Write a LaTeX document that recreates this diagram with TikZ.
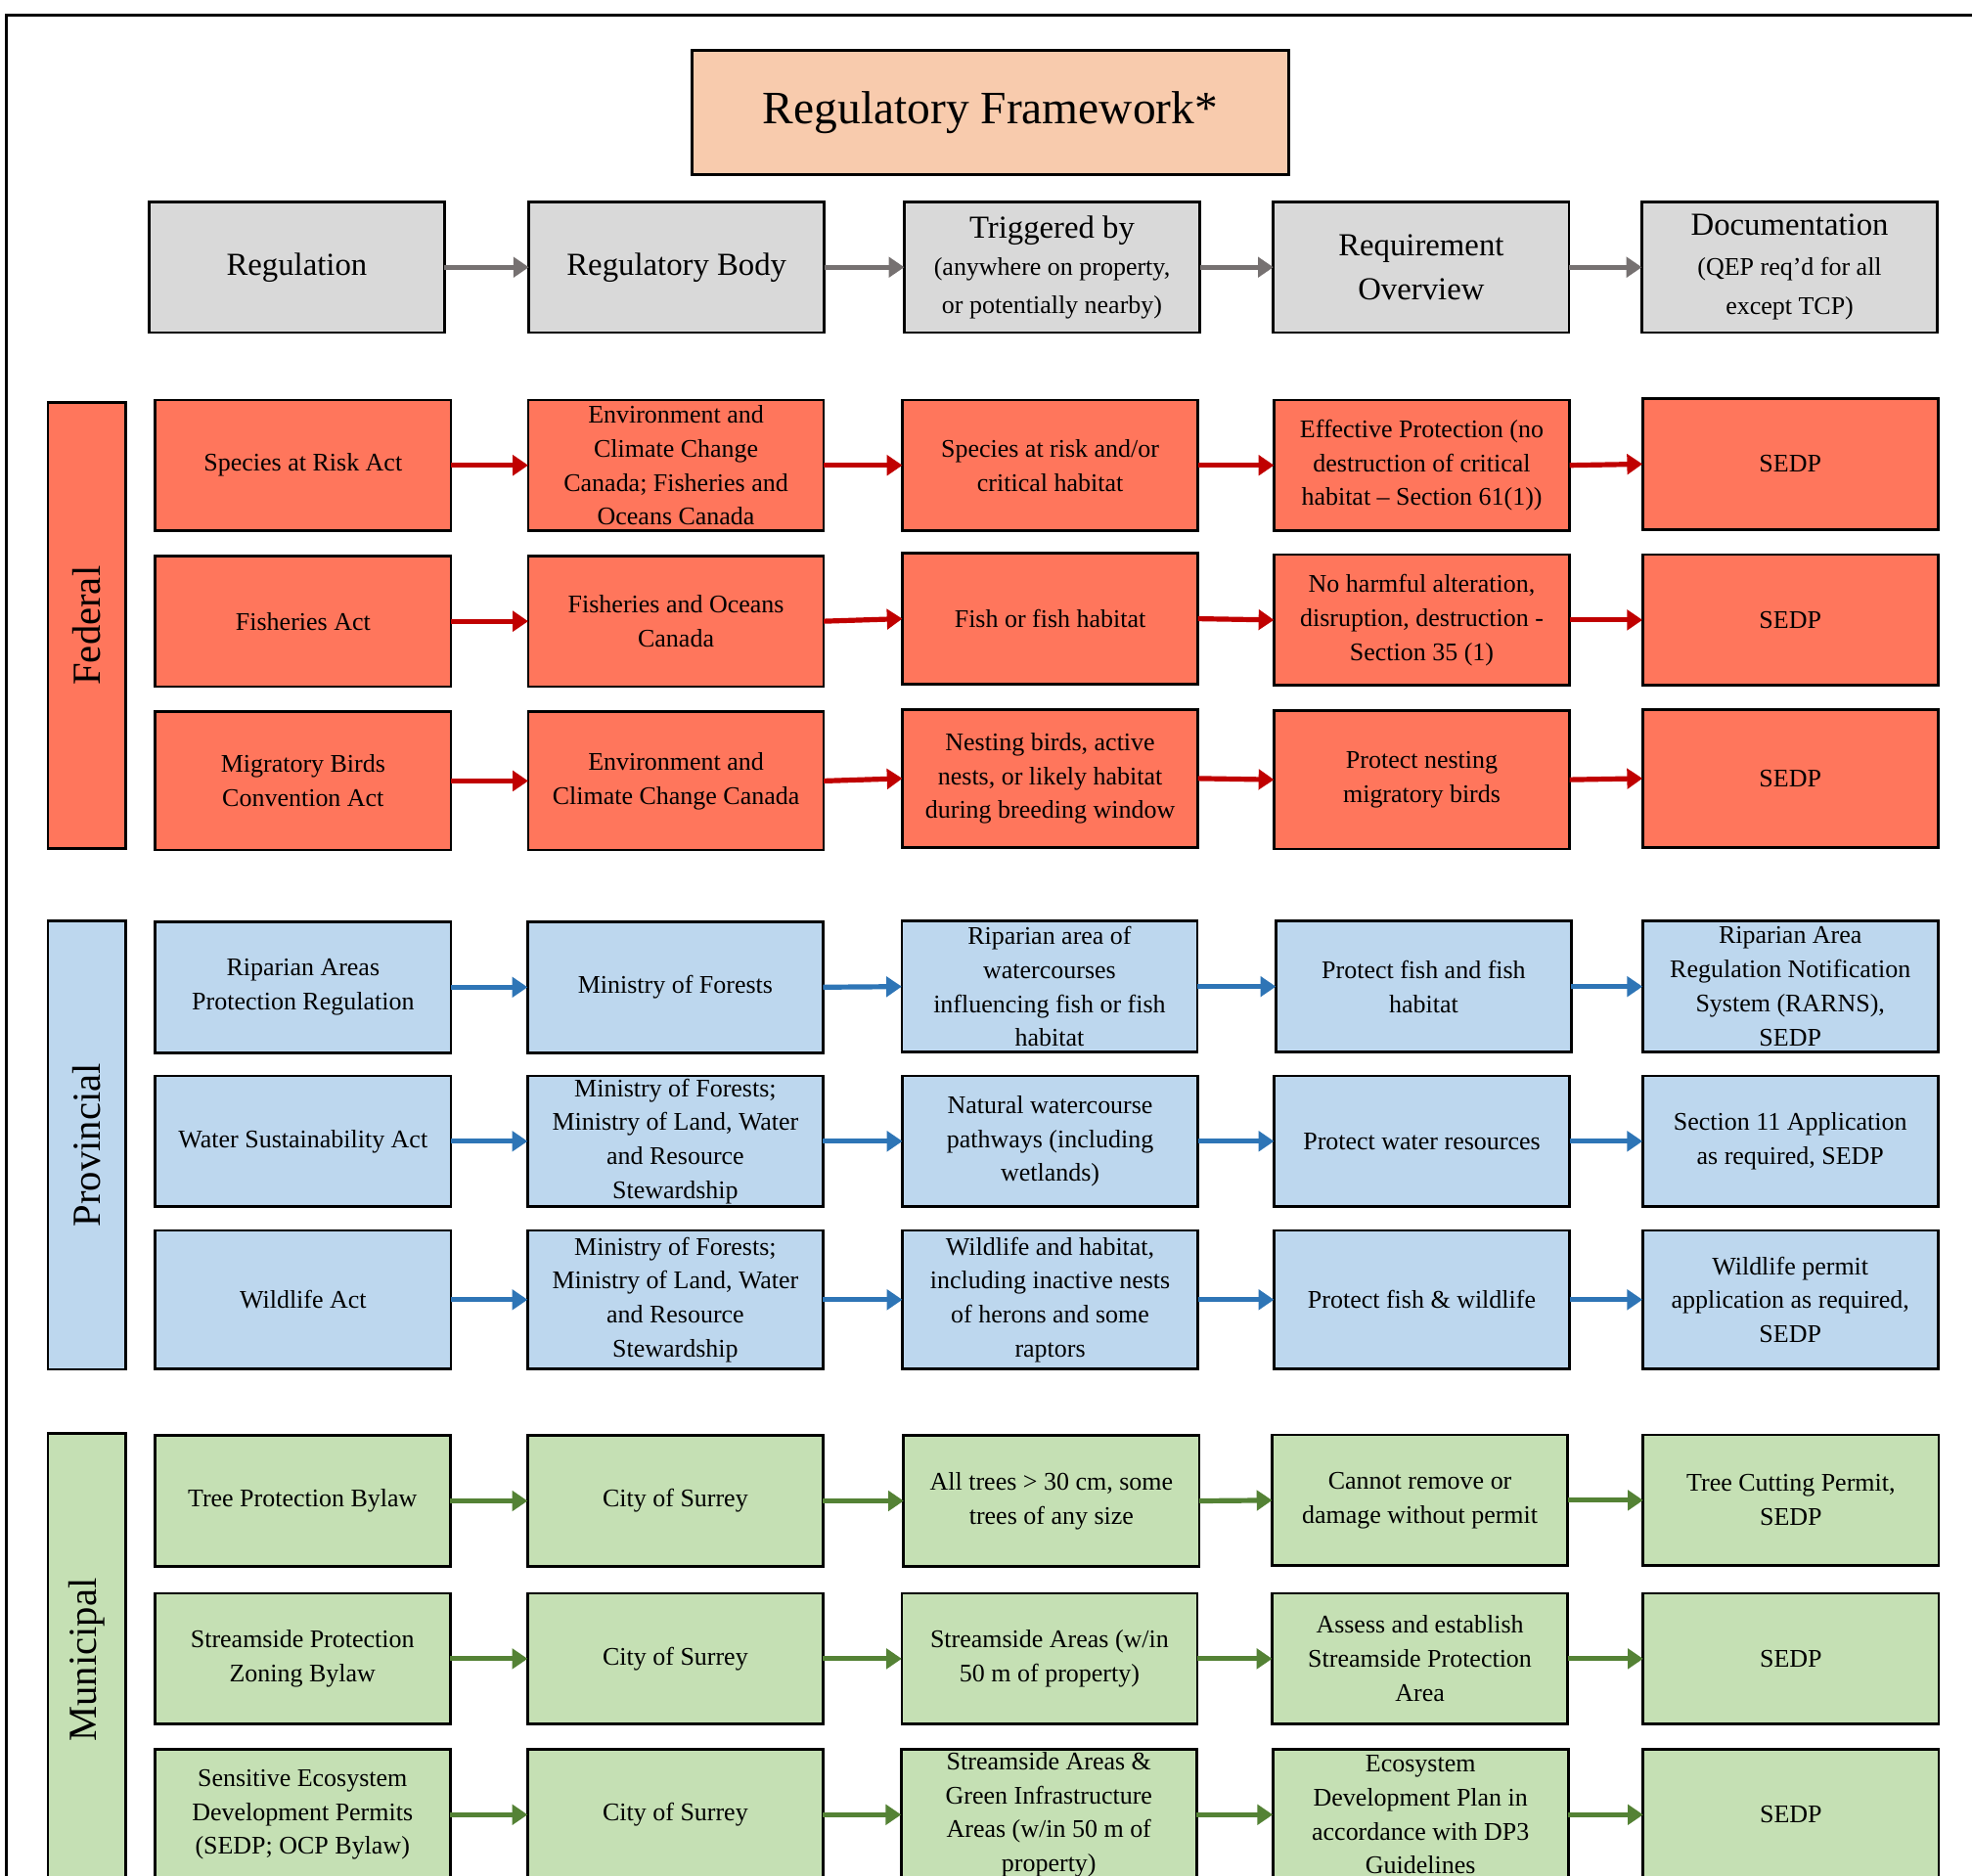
\documentclass[tikz,border=0pt]{standalone}
\usepackage{fontspec}
\setmainfont{Liberation Serif}
\usetikzlibrary{arrows.meta}

\definecolor{titlepeach}{HTML}{F8CBAD}
\definecolor{headgray}{HTML}{D9D9D9}
\definecolor{fedred}{RGB}{255,118,92}
\definecolor{provblue}{HTML}{BDD7EE}
\definecolor{mungreen}{HTML}{C5E0B4}
\definecolor{grayarrow}{HTML}{767171}
\definecolor{redarrow}{HTML}{C00000}
\definecolor{bluearrow}{HTML}{2E75B6}
\definecolor{greenarrow}{HTML}{548235}

\tikzset{
  box/.style={draw=black, line width=1.2pt, minimum width=4.7cm, minimum height=2.08cm,
    inner sep=1pt, outer sep=0pt, align=center, font=\fontsize{11.5}{15.4}\selectfont},
  tallbox/.style={box, minimum height=2.2cm},
  headbox/.style={box, fill=headgray, font=\fontsize{14.5}{20}\selectfont},
  fedbox/.style={box, fill=fedred},
  provbox/.style={box, fill=provblue},
  munbox/.style={box, fill=mungreen},
  grouplabel/.style={draw=black, line width=1.2pt, minimum height=1.24cm, inner sep=0pt,
    rotate=90, font=\fontsize{18}{22}\selectfont},
  flowarrow/.style={line width=2.3pt, -{Triangle[length=7pt,width=9pt]}},
  subtext/.style={font=\fontsize{11.5}{15}\selectfont}
}

\begin{document}
\begin{tikzpicture}[x=0.02cm, y=-0.02cm]
\useasboundingbox (0,0) rectangle (1568,1491);
\clip (0,0) rectangle (1568,1491);

% outer frame
\draw[line width=1.1pt] (5,12) rectangle (1640,1560);

% title
\node[draw=black, line width=1.2pt, fill=titlepeach, minimum width=9.5cm, minimum height=1.98cm,
  font=\fontsize{21}{25}\selectfont] (title) at (787.5,89.5) {Regulatory Framework*};

% header row
\node[headbox] (h-reg) at (236,212.5) {Regulation};
\node[headbox] (h-body) at (538,212.5) {Regulatory Body};
\node[headbox] (h-trig) at (836.5,212.5) {Triggered by\\[-3pt] {\fontsize{11.5}{14}\selectfont (anywhere on property,}\\[-3pt] {\fontsize{11.5}{14}\selectfont or potentially nearby)}};
\node[headbox] (h-req) at (1130,212.5) {Requirement\\ Overview};
\node[headbox] (h-doc) at (1423,212.5) {Documentation\\[-2pt] {\fontsize{11.5}{14}\selectfont (QEP req’d for all}\\[-2pt] {\fontsize{11.5}{14}\selectfont except TCP)}};

% federal
\node[grouplabel, fill=fedred, minimum width=7.1cm] (fed) at (69,497.5) {Federal};
\node[fedbox] (f1-reg) at (241,370) {Species at Risk Act};
\node[fedbox] (f1-body) at (537.5,370) {Environment and\\ Climate Change\\ Canada; Fisheries and\\ Oceans Canada};
\node[fedbox] (f1-trig) at (835,370) {Species at risk and/or\\ critical habitat};
\node[fedbox] (f1-req) at (1130.5,370) {Effective Protection (no\\ destruction of critical\\ habitat -- Section 61(1))};
\node[fedbox] (f1-doc) at (1423.5,369) {SEDP};

\node[fedbox] (f2-reg) at (241,494) {Fisheries Act};
\node[fedbox] (f2-body) at (537.5,494) {Fisheries and Oceans\\ Canada};
\node[fedbox] (f2-trig) at (835,492) {Fish or fish habitat};
\node[fedbox] (f2-req) at (1130.5,493) {No harmful alteration,\\ disruption, destruction -\\ Section 35 (1)};
\node[fedbox] (f2-doc) at (1423.5,493) {SEDP};

\node[fedbox, tallbox] (f3-reg) at (241,621) {Migratory Birds\\ Convention Act};
\node[fedbox, tallbox] (f3-body) at (537.5,621) {Environment and\\ Climate Change Canada};
\node[fedbox, tallbox] (f3-trig) at (835,619) {Nesting birds, active\\ nests, or likely habitat\\ during breeding window};
\node[fedbox, tallbox] (f3-req) at (1130.5,620) {Protect nesting\\ migratory birds};
\node[fedbox, tallbox] (f3-doc) at (1423.5,619) {SEDP};

% provincial
\node[grouplabel, fill=provblue, minimum width=7.14cm] (prov) at (69,910.5) {Provincial};
\node[provbox] (p1-reg) at (241,785) {Riparian Areas\\ Protection Regulation};
\node[provbox] (p1-body) at (537,785) {Ministry of Forests};
\node[provbox] (p1-trig) at (834.5,784.5) {Riparian area of\\ watercourses\\ influencing fish or fish\\ habitat};
\node[provbox] (p1-req) at (1132,784.5) {Protect fish and fish\\ habitat};
\node[provbox] (p1-doc) at (1423.5,784.5) {Riparian Area\\ Regulation Notification\\ System (RARNS),\\ SEDP};

\node[provbox] (p2-reg) at (241,907.5) {Water Sustainability Act};
\node[provbox] (p2-body) at (537,907.5) {Ministry of Forests;\\ Ministry of Land, Water\\ and Resource\\ Stewardship};
\node[provbox] (p2-trig) at (835,907.5) {Natural watercourse\\ pathways (including\\ wetlands)};
\node[provbox] (p2-req) at (1130.5,907.5) {Protect water resources};
\node[provbox] (p2-doc) at (1423.5,907.5) {Section 11 Application\\ as required, SEDP};

\node[provbox, tallbox] (p3-reg) at (241,1033.5) {Wildlife Act};
\node[provbox, tallbox] (p3-body) at (537,1033.5) {Ministry of Forests;\\ Ministry of Land, Water\\ and Resource\\ Stewardship};
\node[provbox, tallbox] (p3-trig) at (835,1033.5) {Wildlife and habitat,\\ including inactive nests\\ of herons and some\\ raptors};
\node[provbox, tallbox] (p3-req) at (1130.5,1033.5) {Protect fish \& wildlife};
\node[provbox, tallbox] (p3-doc) at (1423.5,1033.5) {Wildlife permit\\ application as required,\\ SEDP};

% municipal
\node[grouplabel, fill=mungreen, minimum width=7.2cm] (mun) at (69,1320) {Municipal};
\node[munbox] (m1-reg) at (240.5,1193.5) {Tree Protection Bylaw};
\node[munbox] (m1-body) at (537,1193.5) {City of Surrey};
\node[munbox] (m1-trig) at (836,1193.5) {All trees > 30 cm, some\\ trees of any size};
\node[munbox] (m1-req) at (1129,1193) {Cannot remove or\\ damage without permit};
\node[munbox] (m1-doc) at (1424,1193) {Tree Cutting Permit,\\ SEDP};

\node[munbox] (m2-reg) at (240.5,1319) {Streamside Protection\\ Zoning Bylaw};
\node[munbox] (m2-body) at (537,1319) {City of Surrey};
\node[munbox] (m2-trig) at (834.5,1319) {Streamside Areas (w/in\\ 50 m of property)};
\node[munbox] (m2-req) at (1129,1319) {Assess and establish\\ Streamside Protection\\ Area};
\node[munbox] (m2-doc) at (1424,1319) {SEDP};

\node[munbox] (m3-reg) at (240.5,1443) {Sensitive Ecosystem\\ Development Permits\\ (SEDP; OCP Bylaw)};
\node[munbox] (m3-body) at (537,1443) {City of Surrey};
\node[munbox] (m3-trig) at (834,1443) {Streamside Areas \&\\ Green Infrastructure\\ Areas (w/in 50 m of\\ property)};
\node[munbox] (m3-req) at (1129.5,1443) {Ecosystem\\ Development Plan in\\ accordance with DP3\\ Guidelines};
\node[munbox] (m3-doc) at (1424,1443) {SEDP};

% arrows
\foreach \r/\c in {h/grayarrow, f1/redarrow, f2/redarrow, f3/redarrow,
    p1/bluearrow, p2/bluearrow, p3/bluearrow, m1/greenarrow, m2/greenarrow, m3/greenarrow} {
  \draw[flowarrow, \c] (\r-reg.east) -- (\r-body.west);
  \draw[flowarrow, \c] (\r-body.east) -- (\r-trig.west);
  \draw[flowarrow, \c] (\r-trig.east) -- (\r-req.west);
  \draw[flowarrow, \c] (\r-req.east) -- (\r-doc.west);
}

\end{tikzpicture}
\end{document}
